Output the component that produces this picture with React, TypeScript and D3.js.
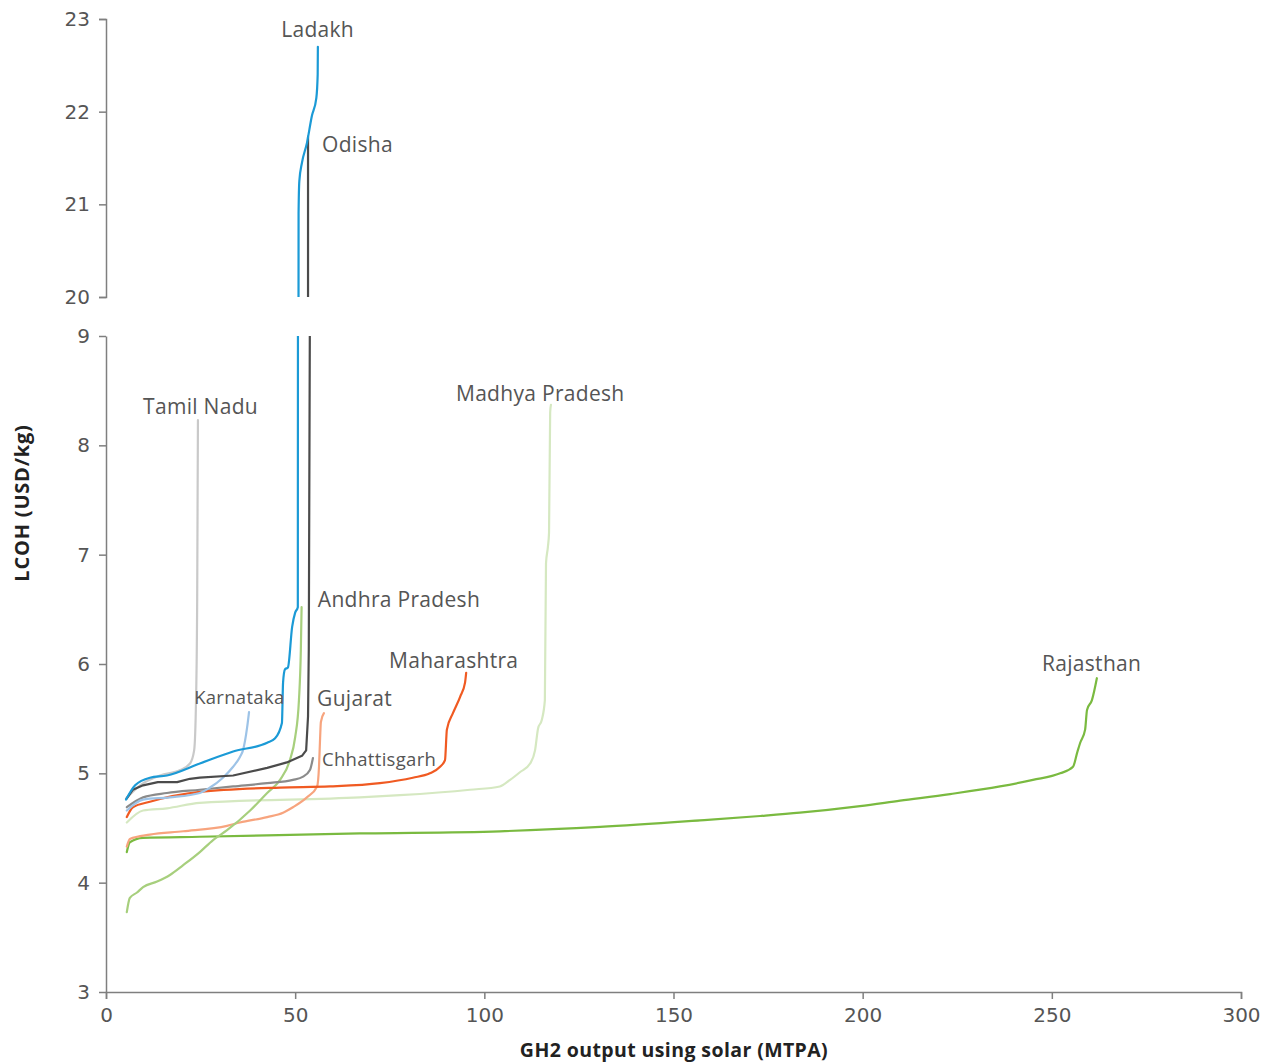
import React, { useEffect, useRef } from "react";
import * as d3 from "d3";

type Pt = [number, number];

const xTicks = [0, 50, 100, 150, 200, 250, 300];
const yTicksLower = [3, 4, 5, 6, 7, 8, 9];
const yTicksUpper = [20, 21, 22, 23];

const madhyaPradesh: Pt[] = [
  [5.5, 4.55], [9.8, 4.66], [16.1, 4.68], [24.8, 4.73], [67.1, 4.78], [77.7, 4.8], [96.2, 4.85],
  [104.1, 4.88], [106.8, 4.94], [109.4, 5.01], [112.1, 5.09], [113.4, 5.21], [114.2, 5.41],
  [115.2, 5.49], [116.0, 5.67], [116.3, 6.92], [116.8, 7.07], [117.1, 7.2], [117.4, 8.3], [117.6, 8.37],
];
const rajasthan: Pt[] = [
  [5.5, 4.28], [6.3, 4.37], [9.8, 4.41], [24.8, 4.42], [67.1, 4.45], [104.1, 4.47], [130.6, 4.51],
  [157.0, 4.57], [172.9, 4.61], [183.4, 4.64], [199.3, 4.7], [209.9, 4.75], [223.1, 4.81],
  [236.3, 4.88], [245.0, 4.94], [252.2, 5.0], [255.6, 5.06], [256.7, 5.19], [257.5, 5.28],
  [258.8, 5.4], [259.3, 5.58], [260.6, 5.67], [261.9, 5.87],
];
const gujarat: Pt[] = [
  [5.5, 4.33], [6.3, 4.4], [11.6, 4.44], [20.4, 4.47], [32.0, 4.52], [35.4, 4.55], [42.6, 4.6],
  [46.8, 4.64], [49.4, 4.69], [53.1, 4.78], [55.8, 4.88], [56.3, 5.06], [56.6, 5.33], [56.8, 5.47], [57.6, 5.55],
];
const andhraPradesh: Pt[] = [
  [5.5, 3.73], [6.3, 3.86], [8.2, 3.91], [9.8, 3.96], [13.5, 4.01], [16.9, 4.07], [20.4, 4.16],
  [24.8, 4.28], [28.3, 4.39], [32.0, 4.48], [38.1, 4.66], [42.6, 4.82], [46.0, 4.94], [48.6, 5.12],
  [50.0, 5.33], [51.0, 5.67], [51.5, 6.13], [51.7, 6.52],
];
const maharashtra: Pt[] = [
  [5.5, 4.6], [7.1, 4.69], [11.6, 4.74], [24.8, 4.83], [46.0, 4.87], [59.2, 4.88], [72.4, 4.91],
  [81.1, 4.96], [85.6, 5.0], [88.3, 5.06], [89.6, 5.12], [90.1, 5.4], [91.7, 5.55], [93.6, 5.7],
  [94.9, 5.83], [95.2, 5.92],
];
const chhattisgarh: Pt[] = [
  [5.5, 4.69], [9.8, 4.78], [16.1, 4.82], [24.8, 4.85], [33.6, 4.88], [42.6, 4.91], [49.4, 4.94],
  [52.1, 4.97], [53.9, 5.03], [54.7, 5.14],
];
const karnataka: Pt[] = [
  [5.5, 4.66], [9.8, 4.76], [16.9, 4.78], [24.8, 4.82], [27.5, 4.87], [30.9, 4.96], [33.6, 5.06],
  [35.4, 5.15], [36.2, 5.21], [37.3, 5.42], [37.8, 5.56],
];
const tamilNadu: Pt[] = [
  [5.3, 4.77], [9.0, 4.89], [14.3, 4.98], [19.6, 5.03], [22.2, 5.09], [23.3, 5.21], [23.8, 5.67],
  [24.1, 6.59], [24.3, 8.23],
];
const odisha: Pt[] = [
  [5.5, 4.77], [7.1, 4.85], [9.8, 4.89], [13.7, 4.92], [18.8, 4.92], [22.2, 4.95], [24.8, 4.96],
  [33.6, 4.98], [42.6, 5.05], [47.8, 5.1], [51.8, 5.16], [52.9, 5.21], [53.4, 5.52], [53.6, 6.13],
  [53.9, 9.3], [53.4, 20.0], [53.4, 21.73],
];
const ladakh: Pt[] = [
  [5.3, 4.76], [7.7, 4.89], [11.6, 4.96], [16.1, 4.98], [24.8, 5.09], [33.6, 5.2], [42.6, 5.28],
  [44.7, 5.32], [46.5, 5.46], [46.8, 5.83], [47.3, 5.95], [48.1, 5.97], [49.2, 6.34], [50.0, 6.47],
  [50.7, 6.52], [50.9, 20.9], [51.1, 21.25], [51.8, 21.45], [53.1, 21.66], [54.4, 21.95], [55.6, 22.15], [55.95, 22.4], [56.0, 22.7],
];

const seriesNames = ["Madhya Pradesh", "Rajasthan", "Gujarat", "Andhra Pradesh", "Maharashtra",
  "Chhattisgarh", "Karnataka", "Tamil Nadu", "Odisha", "Ladakh"];
const seriesData = [madhyaPradesh, rajasthan, gujarat, andhraPradesh, maharashtra,
  chhattisgarh, karnataka, tamilNadu, odisha, ladakh];
const seriesColors = ["#d5e8c1", "#7aba40", "#f7a47e", "#a7cf7d", "#f05a22",
  "#8b8b8b", "#9dc3e7", "#c9c9c9", "#4b4b4b", "#1b9ad6"];

// label anchors in data units
const labelNames = ["Ladakh", "Odisha", "Tamil Nadu", "Madhya Pradesh", "Andhra Pradesh",
  "Maharashtra", "Rajasthan", "Karnataka", "Gujarat", "Chhattisgarh"];
const labelX = [46.3, 57.1, 9.8, 92.5, 56.0, 74.8, 247.4, 23.3, 55.8, 57.1];
const labelY = [22.81, 21.56, 8.29, 8.41, 6.52, 5.96, 5.94, 5.63, 5.62, 5.07];
const labelSmall = [false, false, false, false, false, false, false, true, false, true];

export default function App() {
  const ref = useRef<SVGSVGElement | null>(null);

  useEffect(() => {
    document.body.style.margin = "0";
    const svg = d3.select(ref.current);
    svg.selectAll("*").remove();

    const x = d3.scaleLinear().domain([0, 300]).range([106, 1241]);
    const yL = d3.scaleLinear().domain([3, 9]).range([992, 336]);
    const yU = d3.scaleLinear().domain([20, 23]).range([297, 19]);

    const axisColor = "#7f7f7f";
    const textColor = "#555555";
    const tickFont = "DejaVu Sans, sans-serif";

    const defs = svg.append("defs");
    defs.append("clipPath").attr("id", "clipL").append("rect")
      .attr("x", 106).attr("y", 336).attr("width", 1135).attr("height", 656);
    defs.append("clipPath").attr("id", "clipU").append("rect")
      .attr("x", 106).attr("y", 19).attr("width", 1135).attr("height", 278);

    const styleAxis = (g: any) => {
      g.selectAll(".domain").attr("stroke", axisColor).attr("stroke-width", 1.5);
      g.selectAll(".tick line").attr("stroke", axisColor).attr("stroke-width", 1.5);
      g.selectAll(".tick text").attr("fill", textColor).attr("font-size", 20)
        .attr("font-family", tickFont);
    };

    const gx = svg.append("g").attr("transform", "translate(0,992)")
      .call(d3.axisBottom(x).tickValues(xTicks).tickSize(7).tickSizeOuter(7).tickPadding(9).tickFormat(d3.format("d")));
    styleAxis(gx);

    const gyL = svg.append("g").attr("transform", "translate(106,0)")
      .call(d3.axisLeft(yL).tickValues(yTicksLower).tickSize(7).tickSizeOuter(0).tickPadding(9).tickFormat(d3.format("d")));
    styleAxis(gyL);
    const gyU = svg.append("g").attr("transform", "translate(106,0)")
      .call(d3.axisLeft(yU).tickValues(yTicksUpper).tickSize(7).tickSizeOuter(7).tickPadding(9).tickFormat(d3.format("d")));
    styleAxis(gyU);

    const lineL = d3.line<Pt>().x((d) => x(d[0])).y((d) => yL(d[1])).curve(d3.curveMonotoneX);
    const lineU = d3.line<Pt>().x((d) => x(d[0])).y((d) => yU(d[1])).curve(d3.curveMonotoneX);
    const lineLs = d3.line<Pt>().x((d) => x(d[0])).y((d) => yL(d[1]));
    const lineUs = d3.line<Pt>().x((d) => x(d[0])).y((d) => yU(d[1]));
    const gL = svg.append("g").attr("clip-path", "url(#clipL)");
    const gU = svg.append("g").attr("clip-path", "url(#clipU)");
    seriesData.forEach((data, i) => {
      const monotone = data.every((d, j) => j === 0 || d[0] > data[j - 1][0]);
      const fL = monotone ? lineL : lineLs;
      const fU = monotone ? lineU : lineUs;
      gL.append("path").attr("d", fL(data) as string).attr("fill", "none")
        .attr("stroke", seriesColors[i]).attr("stroke-width", 2.2)
        .attr("stroke-linejoin", "round").attr("stroke-linecap", "round");
      if (data.some((d) => d[1] >= 20)) {
        gU.append("path").attr("d", fU(data) as string).attr("fill", "none")
          .attr("stroke", seriesColors[i]).attr("stroke-width", 2.2)
          .attr("stroke-linejoin", "round").attr("stroke-linecap", "round");
      }
    });

    labelNames.forEach((name, i) => {
      const yy = labelY[i] >= 20 ? yU(labelY[i]) : yL(labelY[i]);
      svg.append("text").attr("x", x(labelX[i])).attr("y", yy)
        .attr("fill", textColor).attr("font-family", "Open Sans, sans-serif")
        .attr("letter-spacing", 0.3)
        .attr("font-size", labelSmall[i] ? 18.5 : 21).text(name);
    });

    svg.append("text").attr("x", 674).attr("y", 1057).attr("text-anchor", "middle")
      .attr("font-family", "Open Sans, sans-serif").attr("font-weight", "bold")
      .attr("letter-spacing", 0.4)
      .attr("font-size", 19.5).attr("fill", "#222").text("GH2 output using solar (MTPA)");
    svg.append("text").attr("transform", "translate(29,503) rotate(-90)").attr("text-anchor", "middle")
      .attr("font-family", "Open Sans, sans-serif").attr("font-weight", "bold")
      .attr("letter-spacing", 0.8)
      .attr("font-size", 20).attr("fill", "#222").text("LCOH (USD/kg)");
  }, []);

  return <svg ref={ref} width={1274} height={1064} style={{ display: "block", background: "#fff" }} />;
}
